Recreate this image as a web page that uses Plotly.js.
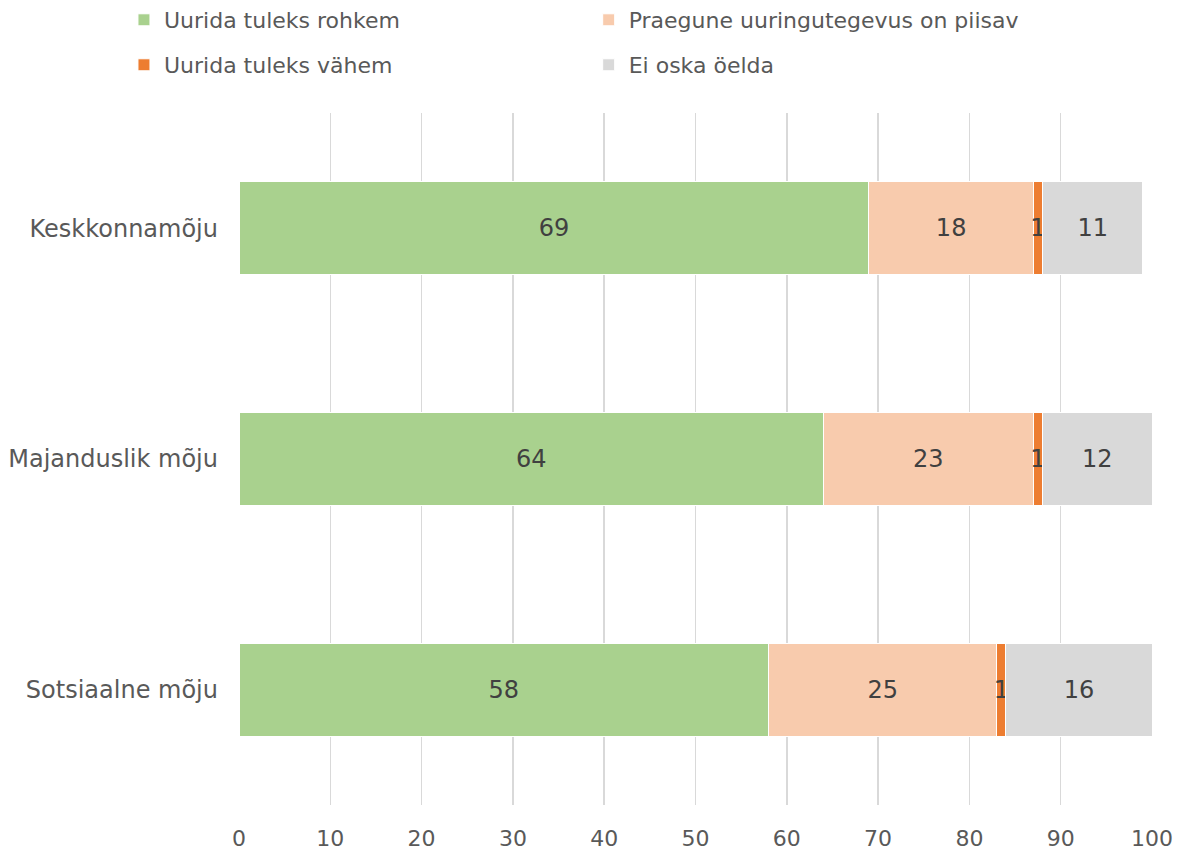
<!DOCTYPE html>
<html>
<head>
<meta charset="utf-8">
<script src="https://cdn.plot.ly/plotly-3.0.1.min.js"></script>
<style>html,body{margin:0;padding:0;background:#fff;}#chart{width:1183px;height:852px;}</style>
</head>
<body>
<div id="chart"></div>
<script>
const categories = ["Keskkonnamõju", "Majanduslik mõju", "Sotsiaalne mõju"];
const seriesNames = ["Uurida tuleks rohkem", "Praegune uuringutegevus on piisav", "Uurida tuleks vähem", "Ei oska öelda"];
const rohkem = [69, 64, 58];
const piisav = [18, 23, 25];
const vahem = [1, 1, 1];
const eiOska = [11, 12, 16];
const xTicks = [0, 10, 20, 30, 40, 50, 60, 70, 80, 90, 100];

const colors = ["#A9D18E", "#F8CBAD", "#ED7D31", "#D9D9D9"];
const values = [rohkem, piisav, vahem, eiOska];
const legendIds = ["legend", "legend2", "legend3", "legend4"];
const FONT = "DejaVu Sans, Verdana, sans-serif";

const traces = values.map((v, i) => ({
  type: "bar",
  orientation: "h",
  name: seriesNames[i],
  y: categories,
  x: v,
  text: v.map(String),
  textposition: "inside",
  insidetextanchor: "middle",
  constraintext: "none",
  textfont: {family: FONT, size: 24, color: "#404040"},
  marker: {color: colors[i], line: {color: "#ffffff", width: 1}},
  legend: legendIds[i],
  hoverinfo: "x+name"
}));

function leg(x, y) {
  return {x: x, y: y, xanchor: "left", yanchor: "middle", orientation: "h",
    font: {family: FONT, size: 22, color: "#595959"}, bgcolor: "rgba(0,0,0,0)"};
}

const layout = {
  width: 1183, height: 852,
  margin: {l: 239, r: 31, t: 113, b: 47, autoexpand: false},
  paper_bgcolor: "#ffffff", plot_bgcolor: "#ffffff",
  barmode: "stack",
  bargap: 0.597,
  showlegend: true,
  legend: leg(-0.126, 1.1344),
  legend2: leg(0.383, 1.1344),
  legend3: leg(-0.126, 1.0694),
  legend4: leg(0.383, 1.0694),
  xaxis: {
    range: [0, 100], tickvals: xTicks, ticktext: xTicks.map(String),
    showgrid: true, gridcolor: "#D9D9D9", gridwidth: 1.5, zeroline: false,
    showline: false, ticks: "", ticklabelstandoff: 18,
    tickfont: {family: FONT, size: 22, color: "#595959"}, fixedrange: true
  },
  yaxis: {
    type: "category", autorange: "reversed", showgrid: false, zeroline: false,
    showline: false, ticks: "", ticklabelstandoff: 20,
    tickfont: {family: FONT, size: 24, color: "#595959"}, fixedrange: true
  }
};

Plotly.newPlot("chart", traces, layout, {displayModeBar: false, staticPlot: true});
</script>
</body>
</html>
